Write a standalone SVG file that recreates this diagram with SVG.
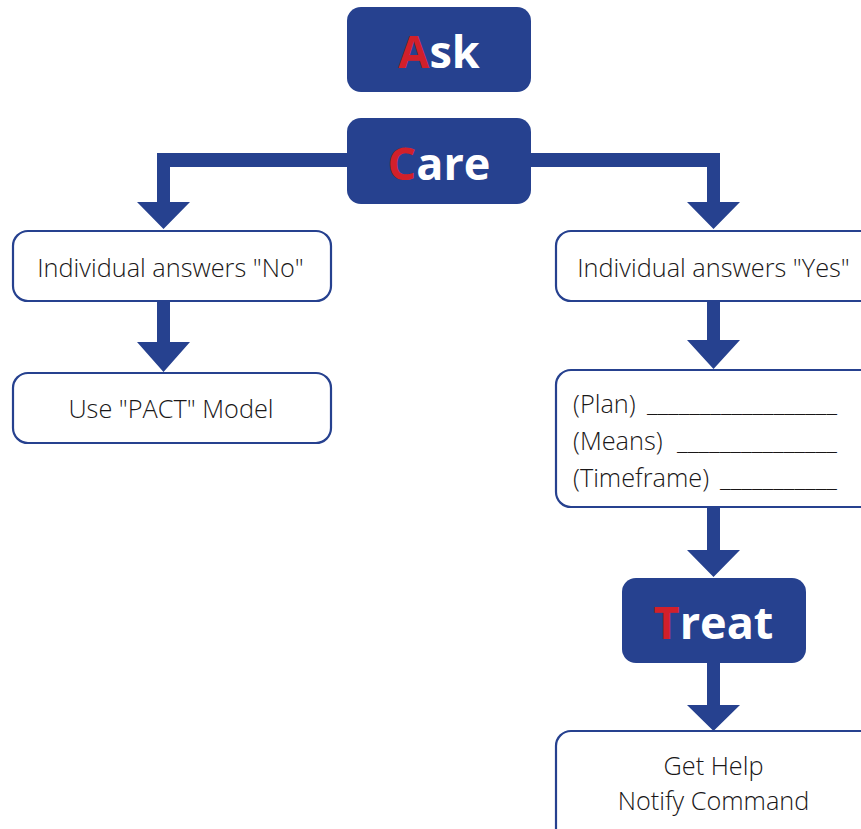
<svg xmlns="http://www.w3.org/2000/svg" width="861" height="829" viewBox="0 0 861 829">
<style>
.dark{fill:#26418F}
.box{fill:#fff;stroke:#26418F;stroke-width:2.2}
.big{font-family:"Open Sans","Liberation Sans",sans-serif;font-weight:bold;font-size:45px;fill:#fff;text-anchor:middle}
.red{fill:#D2202A}
.t{font-family:"Open Sans","Liberation Sans",sans-serif;font-weight:300;font-size:25.3px;fill:#1A1718}
.c{text-anchor:middle}
</style>
<rect width="861" height="829" fill="#fff"/>
<g id="connectors" class="dark">
<polygon points="347,153 157,153 157,202 137,202 163.5,229 190,202 170,202 170,167 347,167"/>
<polygon points="531,153 720,153 720,202 740,202 713.5,229 687,202 707,202 707,167 531,167"/>
<polygon points="157,301 170,301 170,342 190,342 163.5,372 137,342 157,342"/>
<polygon points="707,300 720,300 720,340 740,340 713.5,369 687,340 707,340"/>
<polygon points="707,506 720,506 720,550 740,550 713.5,577 687,550 707,550"/>
<polygon points="707,662 720,662 720,705 740,705 713.5,731 687,705 707,705"/>
</g>
<g id="ask">
<rect class="dark" x="347" y="7" width="184" height="85" rx="14"/>
<text class="big" x="439" y="68"><tspan class="red">A</tspan>sk</text>
</g>
<g id="care">
<rect class="dark" x="347" y="118" width="184" height="86" rx="14"/>
<text class="big" x="439" y="180"><tspan class="red">C</tspan>are</text>
</g>
<g id="no">
<rect class="box" x="13" y="231" width="318" height="70" rx="15"/>
<text class="t c" x="170.5" y="277">Individual answers "No"</text>
</g>
<g id="pact">
<rect class="box" x="13" y="373" width="318" height="70" rx="15"/>
<text class="t c" x="171" y="418">Use "PACT" Model</text>
</g>
<g id="yes">
<rect class="box" x="556" y="231" width="320" height="70" rx="15"/>
<text class="t c" x="713.5" y="277">Individual answers "Yes"</text>
</g>
<g id="plan">
<rect class="box" x="556" y="370" width="320" height="137" rx="15"/>
<text class="t" x="573" y="413">(Plan)</text>
<text class="t" x="647" y="412" textLength="190" lengthAdjust="spacingAndGlyphs">__________________</text>
<text class="t" x="573" y="450">(Means)</text>
<text class="t" x="677" y="450" textLength="160" lengthAdjust="spacingAndGlyphs">_______________</text>
<text class="t" x="573" y="487">(Timeframe)</text>
<text class="t" x="720" y="487" textLength="117" lengthAdjust="spacingAndGlyphs">___________</text>
</g>
<g id="treat">
<rect class="dark" x="622" y="578" width="184" height="85" rx="14"/>
<text class="big" x="713.5" y="639"><tspan class="red">T</tspan>reat</text>
</g>
<g id="help">
<rect class="box" x="556" y="731" width="320" height="120" rx="15"/>
<text class="t c" x="713.5" y="775">Get Help</text>
<text class="t c" x="713.5" y="810">Notify Command</text>
</g>
</svg>
